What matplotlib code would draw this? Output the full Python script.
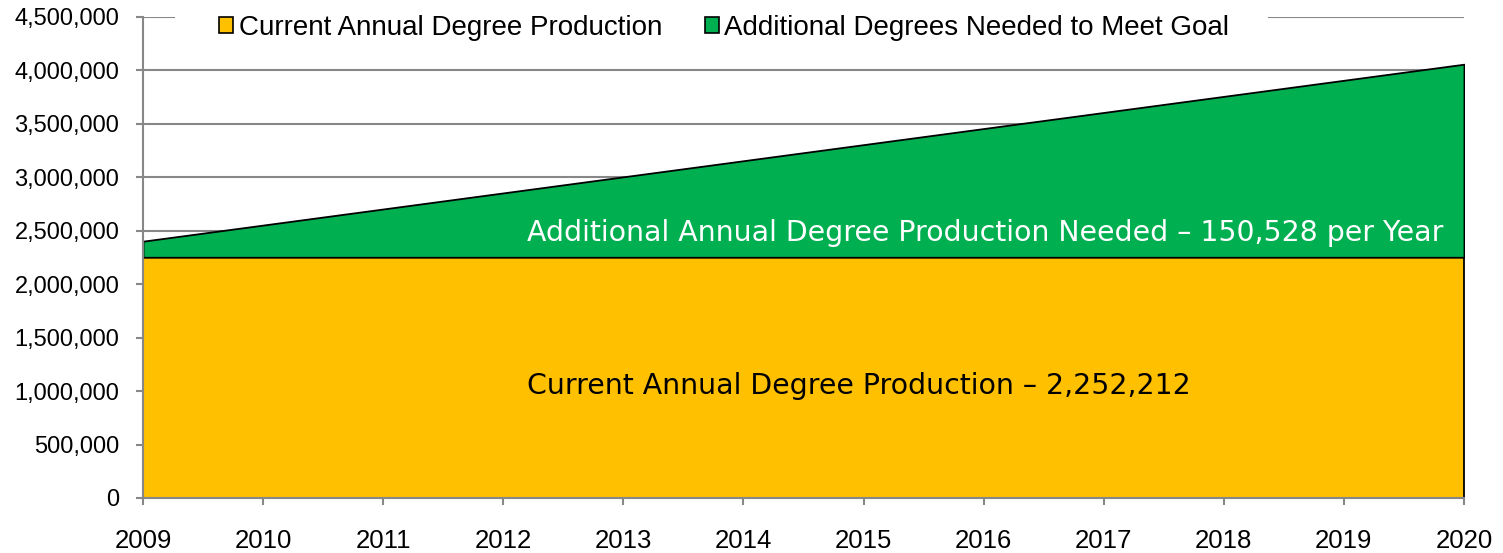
import matplotlib.pyplot as plt
from matplotlib.patches import Rectangle
from matplotlib.ticker import FuncFormatter

years = [2009, 2010, 2011, 2012, 2013, 2014, 2015, 2016, 2017, 2018, 2019, 2020]
current = [2252212] * 12
additional = [150528, 301056, 451584, 602112, 752640, 903168,
              1053696, 1204224, 1354752, 1505280, 1655808, 1806336]
labels = ['Current Annual Degree Production', 'Additional Degrees Needed to Meet Goal']
colors = ['#FFC000', '#00B050']
grid_col = '#878787'

plt.rcParams['font.family'] = ['Liberation Sans', 'DejaVu Sans']

fig = plt.figure(figsize=(15.03, 5.53), dpi=100)
ax = fig.add_axes([143 / 1503, 55 / 553, (1464 - 143) / 1503, (498 - 17) / 553])

ax.stackplot(years, current, additional, colors=colors, labels=labels,
             edgecolor='black', linewidth=1.3, zorder=2)

ax.set_xlim(years[0], years[-1])
ax.set_ylim(0, 4500000)
ax.set_xticks(years)
ax.set_yticks(range(0, 4500001, 500000))
ax.yaxis.set_major_formatter(FuncFormatter(lambda v, p: '{:,.0f}'.format(v)))
ax.tick_params(axis='both', colors=grid_col, labelcolor='black', length=5, width=1.5)
ax.tick_params(axis='x', labelsize=18.5, pad=17)
ax.tick_params(axis='y', labelsize=17, pad=12)
ax.grid(axis='y', color=grid_col, linewidth=1.5)
ax.set_axisbelow(True)
for s in ['top', 'right']:
    ax.spines[s].set_visible(False)
for s in ['left', 'bottom']:
    ax.spines[s].set_color(grid_col)
    ax.spines[s].set_linewidth(1.5)
    ax.spines[s].set_zorder(3)

ax.text(2012.2, 2479000,
        'Additional Annual Degree Production Needed \u2013 150,528 per Year',
        family='DejaVu Sans', fontsize=20.4, color='white', va='center', zorder=4)
ax.text(2012.2, 1048000, 'Current Annual Degree Production \u2013 2,252,212',
        family='DejaVu Sans', fontsize=20.4, color='black', va='center', zorder=4)

# white gap in the top gridline behind the legend
ax.add_patch(Rectangle((0.0242, 0.97), 0.8274, 0.06, transform=ax.transAxes,
                       facecolor='white', edgecolor='none', zorder=1, clip_on=False))

leg = ax.legend(loc='center', bbox_to_anchor=(0.44, 0.977), ncol=2, fontsize=20,
                frameon=False, handlelength=0.5, handleheight=0.5, handletextpad=0.2,
                columnspacing=1.55, borderpad=0.2)
for h in leg.legend_handles:
    h.set_edgecolor('black')
    h.set_linewidth(1.2)

fig.savefig('out.png', dpi=100)
